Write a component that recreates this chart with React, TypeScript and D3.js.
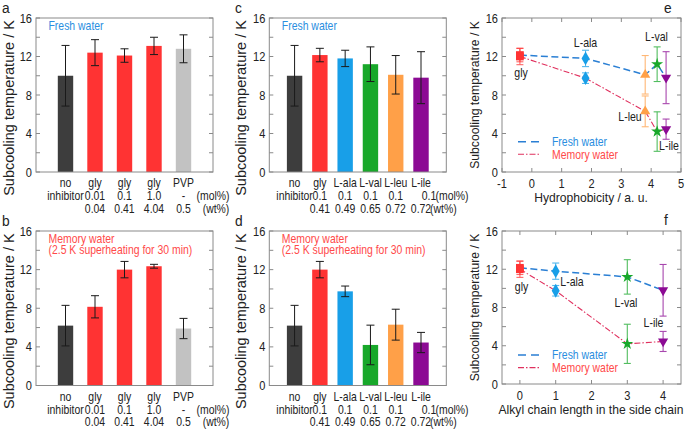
import React from 'react';
import * as d3 from 'd3';

const W = 685;
const H = 431;
const FONT = 'Liberation Sans, Arial, Helvetica, sans-serif';

// ---------- panels a / b ----------
const abCats = ['no', 'gly', 'gly', 'gly', 'PVP'];
const abMol = ['inhibitor', '0.01', '0.1', '1.0', '-'];
const abWt = ['', '0.04', '0.41', '4.04', '0.5'];
const abColors = ['#3d3d3d', '#ff3333', '#ff3333', '#ff3333', '#c2c2c2'];
const freshAB = [10.0, 12.4, 12.1, 13.1, 12.8];
const freshABErr = [3.15, 1.35, 0.7, 0.9, 1.45];
const memAB = [6.2, 8.15, 12.0, 12.35, 5.9];
const memABErr = [2.1, 1.15, 0.85, 0.2, 1.05];

// ---------- panels c / d ----------
const cdCats = ['no', 'gly', 'L-ala', 'L-val', 'L-leu', 'L-ile'];
const cdMol = ['inhibitor', '0.1', '0.1', '0.1', '0.1', '0.1'];
const cdWt = ['', '0.41', '0.49', '0.65', '0.72', '0.72'];
const cdColors = ['#3d3d3d', '#ff3333', '#189fe8', '#18a82a', '#ffa048', '#8c0a94'];
const freshCD = [10.0, 12.15, 11.8, 11.2, 10.1, 9.8];
const freshCDErr = [3.15, 0.7, 0.85, 1.8, 2.0, 2.7];
const memCD = [6.2, 12.0, 9.75, 4.2, 6.3, 4.45];
const memCDErr = [2.1, 0.85, 0.55, 2.05, 1.6, 1.05];

// ---------- panels e / f ----------
const eNames = ['gly', 'L-ala', 'L-leu', 'L-val', 'L-ile'];
const eHydrophobicity = [-0.4, 1.8, 3.8, 4.2, 4.5];
const fNames = ['gly', 'L-ala', 'L-val', 'L-ile'];
const fChainLength = [0, 1, 3, 4];
const eTicks = [-1, 0, 1, 2, 3, 4, 5];
const fTicks = [0, 1, 2, 3, 4];
const yTicks = [0, 4, 8, 12, 16];

const markerShape: Record<string, string> = {
  gly: 'square',
  'L-ala': 'diamond',
  'L-leu': 'triUp',
  'L-val': 'star',
  'L-ile': 'triDown',
};

const FRESH_LINE = '#2a7fd4';
const MEM_LINE = '#e0305e';
const FRESH_TEXT = '#2a8ee0';
const MEM_TEXT = '#ff4a4a';
const FRAME = '#8a8a8a';
const TXT = '#222';

function T({ x, y, children, anchor = 'start', size = 12, sx = 0.87, fill = TXT }: any) {
  return (
    <text
      transform={`translate(${x},${y}) scale(${sx},1)`}
      textAnchor={anchor}
      fontSize={size}
      fill={fill}
      fontFamily={FONT}
    >
      {children}
    </text>
  );
}

function YTitle({ x, y, size }: any) {
  return (
    <text
      transform={`translate(${x},${y}) rotate(-90)`}
      textAnchor="middle"
      dominantBaseline="central"
      fontSize={size}
      fill={TXT}
      fontFamily={FONT}
    >
      Subcooling temperature / K
    </text>
  );
}

function YAxis({ x0, x1, y }: any) {
  const minor = d3.range(0, 17, 2);
  return (
    <g>
      {minor.map((v) => (
        <g key={v}>
          <line x1={x0} x2={x0 + 4} y1={y(v)} y2={y(v)} stroke={FRAME} />
          <line x1={x1 - 4} x2={x1} y1={y(v)} y2={y(v)} stroke={FRAME} />
        </g>
      ))}
      {yTicks.map((v) => (
        <T key={v} x={x0 - 4} y={y(v) + 4.5} anchor="end" size={13} sx={0.85}>
          {v}
        </T>
      ))}
    </g>
  );
}

function BarPanel({
  x0, x1, y0, y1, cats, mol, wt, colors, vals, errs, note, noteColor, letter, letterX, titleX, lastMolShift, molUnitX, wtUnitX, unitAnchor,
}: any) {
  const n = cats.length;
  const x = d3.scaleLinear().domain([0, n + 1]).range([x0, x1]);
  const y = d3.scaleLinear().domain([0, 16]).range([y1, y0]);
  const bw = 15.4;
  const cap = 4;
  return (
    <g>
      {vals.map((v: number, i: number) => (
        <rect key={i} x={x(i + 1) - bw / 2} y={y(v)} width={bw} height={y(0) - y(v)} fill={colors[i]} />
      ))}
      {vals.map((v: number, i: number) => (
        <g key={'e' + i} stroke="#1a1a1a" strokeWidth={1}>
          <line x1={x(i + 1)} x2={x(i + 1)} y1={y(v + errs[i])} y2={y(v - errs[i])} />
          <line x1={x(i + 1) - cap} x2={x(i + 1) + cap} y1={y(v + errs[i])} y2={y(v + errs[i])} />
          <line x1={x(i + 1) - cap} x2={x(i + 1) + cap} y1={y(v - errs[i])} y2={y(v - errs[i])} />
        </g>
      ))}
      <rect x={x0} y={y0} width={x1 - x0} height={y1 - y0} fill="none" stroke={FRAME} />
      <YAxis x0={x0} x1={x1} y={y} />
      {note.map((s: string, i: number) => (
        <T key={s} x={x0 + 12.5} y={y0 + 11.5 + i * 11.8} fill={noteColor} size={12} sx={0.87}>
          {s}
        </T>
      ))}
      {cats.map((c: string, i: number) => (
        <T key={'c' + i} x={x(i + 1)} y={y1 + 15} anchor="middle">
          {c}
        </T>
      ))}
      {mol.map((c: string, i: number) => (
        <T key={'m' + i} x={x(i + 1) + (i === n - 1 ? lastMolShift : 0)} y={y1 + 28} anchor="middle">
          {c}
        </T>
      ))}
      {wt.map((c: string, i: number) => (
        <T key={'w' + i} x={x(i + 1)} y={y1 + 40.7} anchor="middle">
          {c}
        </T>
      ))}
      <T x={molUnitX} y={y1 + 28} anchor={unitAnchor}>(mol%)</T>
      <T x={wtUnitX} y={y1 + 40.7} anchor={unitAnchor}>(wt%)</T>
      <YTitle x={titleX} y={(y0 + y1) / 2 + 13} size={14.5} />
      <T x={letterX} y={y0 - 5} size={14.5} sx={0.95}>
        {letter}
      </T>
    </g>
  );
}

function Marker({ shape, cx, cy, color }: any) {
  let path = '';
  let rot = 0;
  if (shape === 'square') path = d3.symbol(d3.symbolSquare, 60)() as string;
  else if (shape === 'diamond') path = d3.symbol(d3.symbolDiamond, 55)() as string;
  else if (shape === 'triUp') path = d3.symbol(d3.symbolTriangle, 45)() as string;
  else if (shape === 'triDown') {
    path = d3.symbol(d3.symbolTriangle, 45)() as string;
    rot = 180;
  } else path = d3.symbol(d3.symbolStar, 45)() as string;
  return <path d={path} transform={`translate(${cx},${cy}) rotate(${rot})`} fill={color} />;
}

function ScatterPanel({ x0, x1, y0, y1, domain, ticks, names, xs, title, labels, letter, letterPos, legendY }: any) {
  const x = d3.scaleLinear().domain(domain).range([x0, x1]);
  const y = d3.scaleLinear().domain([0, 16]).range([y1, y0]);
  const idx = names.map((nm: string) => cdCats.indexOf(nm));
  const fresh = idx.map((k: number) => freshCD[k]);
  const freshE = idx.map((k: number) => freshCDErr[k]);
  const mem = idx.map((k: number) => memCD[k]);
  const memE = idx.map((k: number) => memCDErr[k]);
  const cols = idx.map((k: number) => cdColors[k]);
  const line = d3
    .line<number>()
    .x((_, i) => x(xs[i]))
    .y((d) => y(d));
  const cap = 3.5;
  const errBars = (vals: number[], errs: number[], op: number) =>
    vals.map((v, i) => (
      <g key={i} stroke={cols[i]} strokeWidth={1.1} opacity={op}>
        <line x1={x(xs[i])} x2={x(xs[i])} y1={y(v + errs[i])} y2={y(v - errs[i])} />
        <line x1={x(xs[i]) - cap} x2={x(xs[i]) + cap} y1={y(v + errs[i])} y2={y(v + errs[i])} />
        <line x1={x(xs[i]) - cap} x2={x(xs[i]) + cap} y1={y(v - errs[i])} y2={y(v - errs[i])} />
      </g>
    ));
  return (
    <g>
      <rect x={x0} y={y0} width={x1 - x0} height={y1 - y0} fill="none" stroke={FRAME} />
      <YAxis x0={x0} x1={x1} y={y} />
      {ticks.map((t: number) => (
        <g key={t}>
          <line x1={x(t)} x2={x(t)} y1={y1} y2={y1 - 4} stroke={FRAME} />
          <line x1={x(t)} x2={x(t)} y1={y0} y2={y0 + 4} stroke={FRAME} />
          <T x={x(t)} y={y1 + 15.5} anchor="middle" size={13} sx={0.85}>
            {t}
          </T>
        </g>
      ))}
      <text x={591} y={y1 + 30} textAnchor="middle" fontSize={12.1} fill={TXT} fontFamily={FONT}>
        {title}
      </text>
      <YTitle x={x0 - 27} y={(y0 + y1) / 2} size={12.2} />
      {errBars(fresh, freshE, 0.75)}
      {errBars(mem, memE, 0.75)}
      <path d={line(fresh) as string} fill="none" stroke={FRESH_LINE} strokeWidth={1.5} strokeDasharray="7,3.5" />
      <path d={line(mem) as string} fill="none" stroke={MEM_LINE} strokeWidth={1.1} strokeDasharray="6,2,1.5,2" />
      {fresh.map((v: number, i: number) => (
        <Marker key={'f' + i} shape={markerShape[names[i]]} cx={x(xs[i])} cy={y(v)} color={cols[i]} />
      ))}
      {mem.map((v: number, i: number) => (
        <Marker key={'m' + i} shape={markerShape[names[i]]} cx={x(xs[i])} cy={y(v)} color={cols[i]} />
      ))}
      {labels.map((l: any) => (
        <T key={l.t} x={l.x} y={l.y} anchor="middle" size={12} sx={0.88}>
          {l.t}
        </T>
      ))}
      <line x1={x0 + 16} x2={x0 + 38} y1={legendY} y2={legendY} stroke={FRESH_LINE} strokeWidth={1.5} strokeDasharray="8,5" />
      <T x={x0 + 50} y={legendY + 4.3} fill={FRESH_TEXT} size={12} sx={0.87}>
        Fresh water
      </T>
      <line x1={x0 + 16} x2={x0 + 38} y1={legendY + 12.6} y2={legendY + 12.6} stroke={MEM_LINE} strokeWidth={1.1} strokeDasharray="6,2,1.5,2" />
      <T x={x0 + 50} y={legendY + 16.9} fill={MEM_TEXT} size={12} sx={0.87}>
        Memory water
      </T>
      <T x={letterPos[0]} y={letterPos[1]} size={14.5} sx={0.95}>
        {letter}
      </T>
    </g>
  );
}

export default function App() {
  const topY: [number, number] = [18, 172];
  const botY: [number, number] = [231, 385.5];
  const freshNote = ['Fresh water'];
  const memNote = ['Memory water', '(2.5 K superheating for 30 min)'];
  return (
    <svg width={W} height={H} style={{ position: 'absolute', left: 0, top: 0, background: '#fff' }}>
      <BarPanel
        x0={36} x1={213} y0={topY[0]} y1={topY[1]}
        cats={abCats} mol={abMol} wt={abWt} colors={abColors} vals={freshAB} errs={freshABErr}
        note={freshNote} noteColor={FRESH_TEXT} letter="a" letterX={2} titleX={9}
        lastMolShift={0} molUnitX={213} wtUnitX={216} unitAnchor="middle"
      />
      <BarPanel
        x0={36} x1={213} y0={botY[0]} y1={botY[1]}
        cats={abCats} mol={abMol} wt={abWt} colors={abColors} vals={memAB} errs={memABErr}
        note={memNote} noteColor={MEM_TEXT} letter="b" letterX={2} titleX={9}
        lastMolShift={0} molUnitX={213} wtUnitX={216} unitAnchor="middle"
      />
      <BarPanel
        x0={269.3} x1={446.3} y0={topY[0]} y1={topY[1]}
        cats={cdCats} mol={cdMol} wt={cdWt} colors={cdColors} vals={freshCD} errs={freshCDErr}
        note={freshNote} noteColor={FRESH_TEXT} letter="c" letterX={235} titleX={240.5}
        lastMolShift={8} molUnitX={435.5} wtUnitX={430} unitAnchor="start"
      />
      <BarPanel
        x0={269.3} x1={446.3} y0={botY[0]} y1={botY[1]}
        cats={cdCats} mol={cdMol} wt={cdWt} colors={cdColors} vals={memCD} errs={memCDErr}
        note={memNote} noteColor={MEM_TEXT} letter="d" letterX={235} titleX={240.5}
        lastMolShift={8} molUnitX={435.5} wtUnitX={430} unitAnchor="start"
      />
      <ScatterPanel
        x0={502} x1={681} y0={topY[0]} y1={topY[1]}
        domain={[-1, 5]} ticks={eTicks} names={eNames} xs={eHydrophobicity}
        title="Hydrophobicity / a. u."
        labels={[
          { t: 'gly', x: 521, y: 77 },
          { t: 'L-ala', x: 585.5, y: 47 },
          { t: 'L-val', x: 656.5, y: 41 },
          { t: 'L-leu', x: 630, y: 121 },
          { t: 'L-ile', x: 669, y: 150 },
        ]}
        letter="e" letterPos={[664, 13]} legendY={141.7}
      />
      <ScatterPanel
        x0={502} x1={681} y0={botY[0]} y1={botY[1] - 1.5}
        domain={[-0.5, 4.5]} ticks={fTicks} names={fNames} xs={fChainLength}
        title="Alkyl chain length in the side chain"
        labels={[
          { t: 'gly', x: 521.5, y: 291 },
          { t: 'L-ala', x: 572, y: 286 },
          { t: 'L-val', x: 626, y: 307 },
          { t: 'L-ile', x: 653.5, y: 327 },
        ]}
        letter="f" letterPos={[664, 225]} legendY={355}
      />
    </svg>
  );
}
